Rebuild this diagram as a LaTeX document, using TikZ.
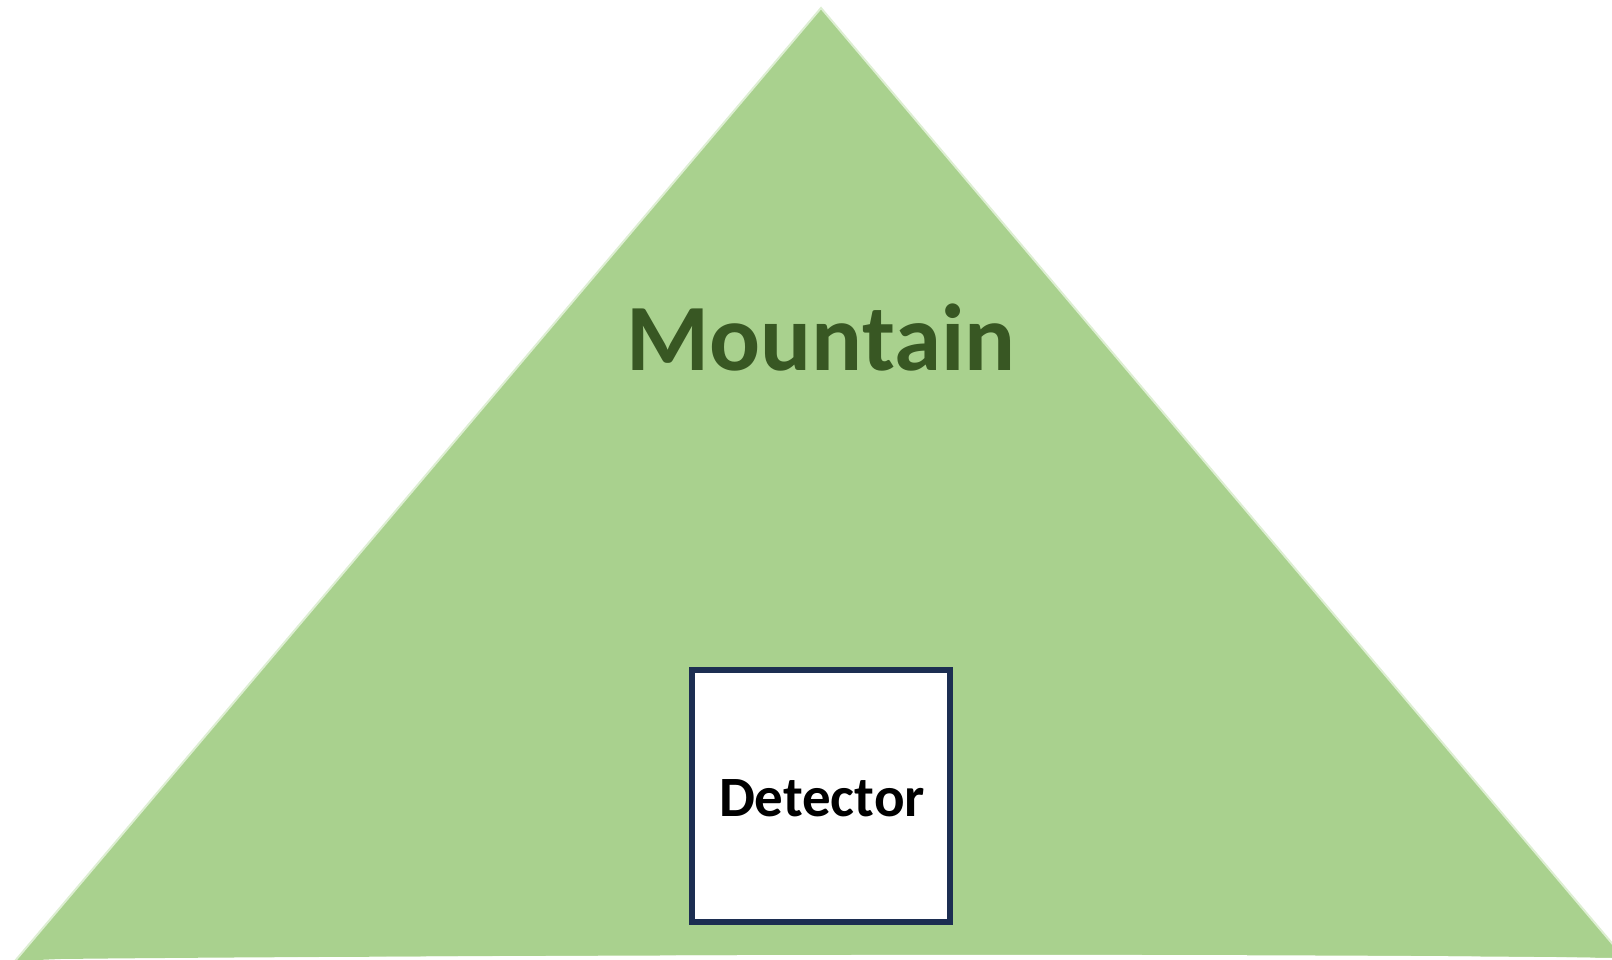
\documentclass[tikz,border=0pt]{standalone}
\usepackage{fontspec}
\setmainfont{Carlito}
\definecolor{mtfill}{HTML}{A9D18E}
\definecolor{mtedge}{HTML}{DDEEd2}
\definecolor{mttext}{HTML}{385723}
\definecolor{boxedge}{HTML}{1C2E52}
\tikzset{
  mountain/.style={fill=mtfill, draw=mtedge, line width=2pt, line join=round},
  detbox/.style={draw=boxedge, fill=white, line width=6pt, minimum width=258pt, minimum height=252pt, inner sep=0pt},
  mtlabel/.style={text=mttext, font=\fontsize{95}{95}\selectfont\bfseries, inner sep=0pt},
  detlabel/.style={text=black, font=\fontsize{57}{57}\selectfont\bfseries, inner sep=0pt}
}
\begin{document}
\begin{tikzpicture}[x=1pt,y=-1pt]
\useasboundingbox (0,0) rectangle (1612,960);
\begin{scope}
\clip (0,0) rectangle (1612,960);
\coordinate (apex) at (821,8);
\coordinate (bl) at (15,961);
\coordinate (br) at (1627,961);
\fill[mtfill] (bl) -- (apex) -- (br) -- (1612,958) .. controls (1300,954) and (400,955) .. (60,959) -- cycle;
\draw[mtedge, line width=2pt, line cap=round] (bl) -- (apex) -- (br);
\fill[white] (60,961) .. controls (400,954) and (1300,953) .. (1612,958) -- (1612,961) -- cycle;
\end{scope}
\node[mtlabel, anchor=base] (mount) at (821,370) {Mountain};
\node[detbox] (det) at (821,796) {};
\node[detlabel, anchor=base] (dlab) at (822,816) {Detector};
\end{tikzpicture}
\end{document}
